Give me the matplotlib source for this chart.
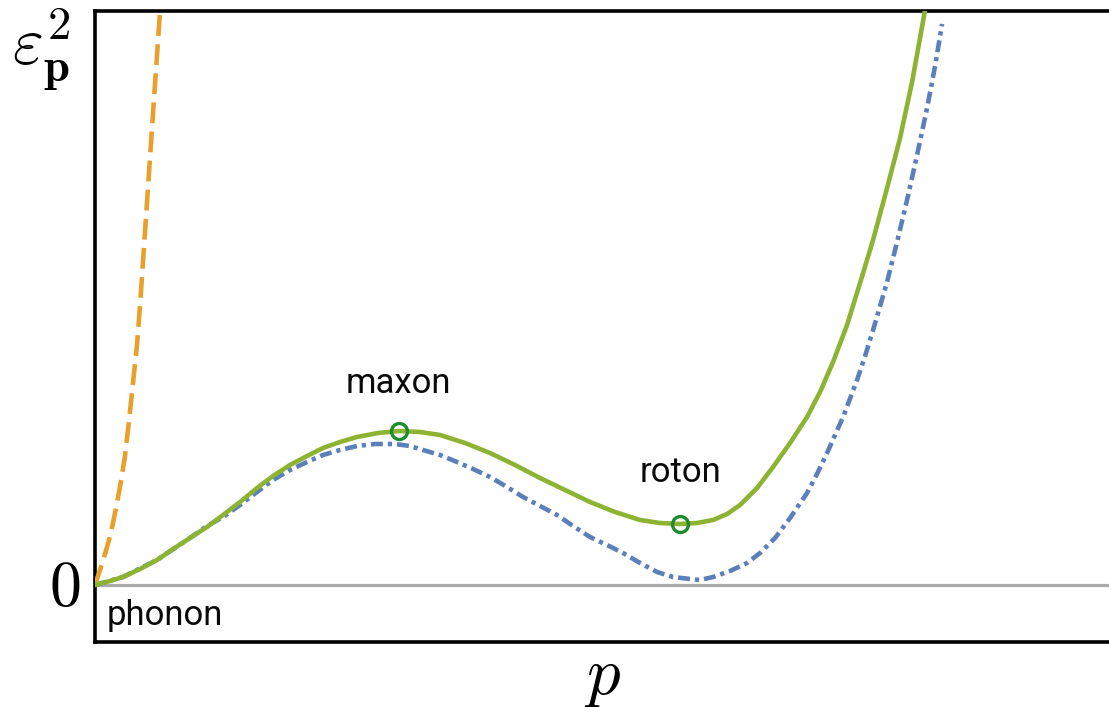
import matplotlib
matplotlib.use("Agg")
import matplotlib.pyplot as plt

plt.rcParams['mathtext.fontset'] = 'cm'
plt.rcParams['lines.scale_dashes'] = False

# ---- data (momentum p, squared energy eps^2) ----
green_p = [0.00, 0.15, 0.28, 0.45, 0.62, 0.78, 0.95, 1.12, 1.28, 1.45, 1.62, 1.78,
           1.95, 2.12, 2.28, 2.45, 2.62, 2.83, 3.04, 3.25, 3.45, 3.70, 3.95, 4.20,
           4.45, 4.70, 4.95, 5.20, 5.45, 5.65, 5.85, 6.02, 6.18, 6.32, 6.45, 6.62,
           6.78, 6.95, 7.12, 7.25, 7.38, 7.52, 7.65, 7.78, 7.92, 8.05, 8.17, 8.30]
green_e = [0.00, 0.04, 0.08, 0.16, 0.25, 0.36, 0.47, 0.58, 0.70, 0.83, 0.97, 1.09,
           1.20, 1.29, 1.37, 1.43, 1.48, 1.52, 1.54, 1.53, 1.50, 1.42, 1.32, 1.20,
           1.07, 0.95, 0.83, 0.73, 0.65, 0.62, 0.61, 0.62, 0.65, 0.71, 0.80, 0.97,
           1.18, 1.42, 1.68, 1.93, 2.23, 2.60, 3.02, 3.45, 3.97, 4.47, 5.03, 5.75]

blue_p = [0.00, 0.28, 0.62, 0.95, 1.12, 1.28, 1.45, 1.62, 1.78, 1.95, 2.12, 2.28,
          2.45, 2.62, 2.80, 3.00, 3.15, 3.28, 3.45, 3.62, 3.78, 3.95, 4.12, 4.28,
          4.45, 4.62, 4.78, 4.95, 5.12, 5.28, 5.45, 5.62, 5.78, 5.95, 6.05, 6.18,
          6.35, 6.52, 6.65, 6.80, 6.95, 7.12, 7.22, 7.32, 7.48, 7.62, 7.70, 7.78,
          7.92, 8.02, 8.12, 8.22, 8.32, 8.40, 8.47]
blue_e = [0.00, 0.08, 0.25, 0.47, 0.59, 0.68, 0.80, 0.93, 1.05, 1.15, 1.23, 1.30,
          1.35, 1.39, 1.41, 1.41, 1.39, 1.35, 1.30, 1.23, 1.16, 1.08, 0.98, 0.88,
          0.79, 0.70, 0.59, 0.48, 0.40, 0.32, 0.22, 0.13, 0.08, 0.06, 0.05, 0.08,
          0.14, 0.22, 0.32, 0.47, 0.67, 0.92, 1.11, 1.32, 1.68, 2.05, 2.29, 2.55,
          3.03, 3.43, 3.85, 4.30, 4.77, 5.19, 5.61]

orange_p = [0.00, 0.05, 0.10, 0.14, 0.18, 0.22, 0.26, 0.30, 0.34, 0.38, 0.42,
            0.45, 0.50, 0.55, 0.60, 0.65]
orange_e = [0.00, 0.15, 0.31, 0.45, 0.62, 0.82, 1.04, 1.29, 1.64, 2.02, 2.40,
            2.79, 3.53, 4.27, 5.01, 5.73]

marker_p = [3.04, 5.85]
marker_e = [1.54, 0.61]
labels = ["maxon", "roton", "phonon"]

W, H = 1109, 707
fig = plt.figure(figsize=(W / 100, H / 100), dpi=100)
ax = fig.add_axes([94.5 / W, (H - 642) / H, 1.0 - 94.5 / W + 0.01, (642 - 11.3) / H])

ax.set_xlim(-0.005, 10.14 + 0.11)
ax.set_ylim(-0.57, 5.737)

ax.axhline(0, color='#aaaaaa', lw=2.3, zorder=1)
ax.plot(blue_p, blue_e, color='#5b7fba', lw=3.3, dashes=(8.6, 3.6, 3.0, 3.6),
        solid_joinstyle='round', dash_joinstyle='round', zorder=2)
ax.plot(orange_p, orange_e, color='#e8a02a', lw=3.3, dashes=(15, 6),
        dash_joinstyle='round', zorder=3)
ax.plot(green_p, green_e, color='#8db332', lw=3.3, solid_joinstyle='round', zorder=4)
ax.plot(marker_p, marker_e, ls='none', marker='o', ms=11.5, mfc='none',
        mec='#1e8c2e', mew=2.4, zorder=5)

txt_kw = dict(family=['Roboto', 'DejaVu Sans'], fontweight='normal', fontsize=25,
              color='#0a0a0a')
ax.text(3.03, 1.92, labels[0], ha='center', va='baseline', **txt_kw)
ax.text(5.85, 1.03, labels[1], ha='center', va='baseline', **txt_kw)
ax.text(0.12, -0.40, labels[2], ha='left', va='baseline', **txt_kw)

for side in ['left', 'bottom', 'top']:
    ax.spines[side].set_linewidth(2.6)
    ax.spines[side].set_color('black')
ax.spines['right'].set_visible(False)
ax.set_xticks([])
ax.set_yticks([])

fig.text(80 / W, 1 - 588 / H, r'$0$', fontsize=46, ha='right', va='center')
fig.text(41 / W, 1 - 50 / H, r'$\varepsilon_{\mathbf{p}}^{2}$', fontsize=48,
         ha='center', va='center')
fig.text(603 / W, 1 - 676 / H, r'$p$', fontsize=48, ha='center', va='center')

fig.savefig('out.png', dpi=100)
